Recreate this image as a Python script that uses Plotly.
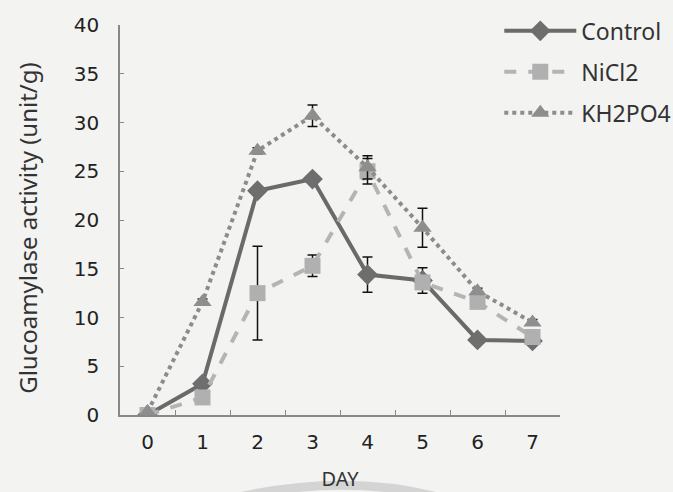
import plotly.graph_objects as go

days = ["0", "1", "2", "3", "4", "5", "6", "7"]
control = [0.0, 3.2, 23.0, 24.2, 14.4, 13.8, 7.7, 7.6]
control_err = [0.0, 0.3, 0.3, 0.4, 1.8, 1.3, 0.2, 0.2]
nicl2 = [0.0, 1.8, 12.5, 15.3, 25.0, 13.6, 11.6, 8.0]
nicl2_err = [0.0, 0.3, 4.8, 1.1, 1.3, 0.4, 0.3, 0.3]
kh2po4 = [0.3, 11.6, 27.1, 30.7, 25.4, 19.2, 12.7, 9.5]
kh2po4_err = [0.0, 0.3, 0.3, 1.1, 1.2, 2.0, 0.3, 0.3]

y_ticks = [0, 5, 10, 15, 20, 25, 30, 35, 40]
y_title = "Glucoamylase activity (unit/g)"

err_style = dict(type="data", visible=True, color="#111111", thickness=1.5, width=5)

fig = go.Figure()
fig.add_trace(go.Scatter(
    x=days, y=control, name="Control", mode="lines+markers", legendgroup="a",
    line=dict(color="#6a6a6a", width=4),
    marker=dict(symbol="diamond", size=16, color="#6e6e6e"),
    error_y=dict(array=control_err, **err_style),
))
fig.add_trace(go.Scatter(
    x=days, y=nicl2, name="NiCl2", mode="lines+markers", legendgroup="b",
    line=dict(color="#b4b4b4", width=4, dash="dash"),
    marker=dict(symbol="square", size=16, color="#b0b0b0"),
    error_y=dict(array=nicl2_err, **err_style),
))
fig.add_trace(go.Scatter(
    x=days, y=kh2po4, name="KH2PO4", mode="lines+markers", legendgroup="c",
    line=dict(color="#8c8c8c", width=4, dash="dot"),
    marker=dict(symbol="triangle-up", size=16, color="#8e8e8e"),
    error_y=dict(array=kh2po4_err, **err_style),
))

# faint scanned-page watermark arc at the bottom
fig.add_shape(
    type="path", xref="paper", yref="paper",
    path="M 0.2,-0.23 Q 0.52,-0.13 0.78,-0.23",
    line=dict(color="#d4d4d4", width=9), layer="below",
)

# y-axis title placed as rotated annotation
fig.add_annotation(
    text=y_title, xref="paper", yref="paper", x=-0.209, y=0.48,
    xanchor="center", yanchor="middle", textangle=-90, showarrow=False,
    font=dict(family="Noto Sans, sans-serif", size=24, color="#333333"),
)

fig.update_layout(
    width=673, height=492,
    paper_bgcolor="#f3f4f2", plot_bgcolor="#f3f4f2",
    margin=dict(l=120, r=113, t=25, b=77, autoexpand=False),
    font=dict(family="DejaVu Sans, sans-serif", color="#222222", size=20),
    showlegend=True,
    legend=dict(
        x=0.862, y=1.04, xanchor="left", yanchor="top",
        bgcolor="rgba(0,0,0,0)", itemwidth=72, traceorder="grouped",
        font=dict(family="Noto Sans, sans-serif", size=23, color="#333333"),
        tracegroupgap=8,
    ),
    xaxis=dict(
        type="category", range=[-0.5, 7.5],
        showline=True, linecolor="#888888", linewidth=1.5,
        ticks="inside", tickson="boundaries", ticklen=5, tickcolor="#888888",
        showgrid=False, zeroline=False, ticklabelstandoff=8,
        title=dict(text="DAY", font=dict(family="Noto Sans, sans-serif", size=20, color="#333333"), standoff=38),
        tickfont=dict(size=20, color="#222222"),
    ),
    yaxis=dict(
        range=[0, 40], tickvals=y_ticks,
        showline=True, linecolor="#888888", linewidth=1.5,
        ticks="inside", ticklen=4, tickcolor="#888888",
        showgrid=False, zeroline=False, ticklabelstandoff=15,
        tickfont=dict(size=20, color="#222222"),
    ),
)

fig.write_html("out.html", post_script="document.body.style.margin='0';",
               config={"displayModeBar": False})
